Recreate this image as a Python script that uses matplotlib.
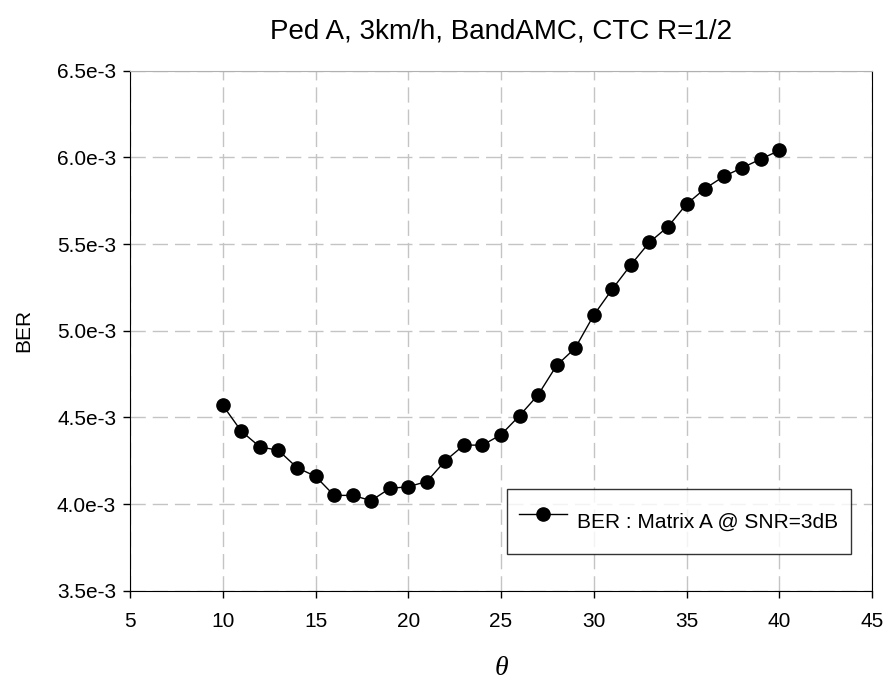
import matplotlib
matplotlib.use("Agg")
import matplotlib.pyplot as plt
from matplotlib.ticker import FuncFormatter, MultipleLocator

plt.rcParams["font.family"] = ["Liberation Sans", "DejaVu Sans"]

theta = [10, 11, 12, 13, 14, 15, 16, 17, 18, 19, 20, 21, 22, 23, 24, 25,
         26, 27, 28, 29, 30, 31, 32, 33, 34, 35, 36, 37, 38, 39, 40]
ber = [4.57e-3, 4.42e-3, 4.33e-3, 4.31e-3, 4.21e-3, 4.16e-3, 4.05e-3, 4.05e-3,
       4.02e-3, 4.09e-3, 4.10e-3, 4.13e-3, 4.25e-3, 4.34e-3, 4.34e-3, 4.40e-3,
       4.51e-3, 4.63e-3, 4.80e-3, 4.90e-3, 5.09e-3, 5.24e-3, 5.38e-3, 5.51e-3,
       5.60e-3, 5.73e-3, 5.82e-3, 5.89e-3, 5.94e-3, 5.99e-3, 6.04e-3]
series_label = "BER : Matrix A @ SNR=3dB"
title = "Ped A, 3km/h, BandAMC, CTC R=1/2"

fig = plt.figure(figsize=(8.87, 6.8), dpi=100)
ax = fig.add_axes([0.1466, 0.1313, 0.8365, 0.7647])

ax.plot(theta, ber, color="black", lw=1.0, marker="o", markersize=9.5,
        label=series_label, zorder=3)

ax.set_xlim(5, 45)
ax.set_ylim(3.5e-3, 6.5e-3)
ax.xaxis.set_major_locator(MultipleLocator(5))
ax.yaxis.set_major_locator(MultipleLocator(0.5e-3))
ax.yaxis.set_major_formatter(FuncFormatter(lambda v, p: f"{v * 1e3:.1f}e-3"))

ax.grid(True, color="#c4c4c4", lw=1.0, linestyle=(0, (11, 5)), zorder=0)
ax.spines["top"].set_color("#b0b0b0")
ax.spines["right"].set_color("black")
ax.tick_params(direction="out", length=5, width=1, labelsize=15,
               top=False, right=False)
ax.tick_params(axis="x", pad=10)
ax.tick_params(axis="y", pad=5)

ax.set_title(title, fontsize=20, pad=23)
ax.set_ylabel("BER", fontsize=15, labelpad=17)
ax.set_xlabel("θ", fontsize=20, family=["Liberation Serif", "DejaVu Serif"],
              style="italic", labelpad=18)

leg = ax.legend(loc="lower right", bbox_to_anchor=(0.9717, 0.0706),
                borderaxespad=0, fontsize=15, frameon=True, fancybox=False,
                handlelength=2.3, handleheight=2.6, borderpad=0.6,
                handletextpad=0.5)
leg.get_frame().set_edgecolor("black")
leg.get_frame().set_linewidth(1.0)

fig.savefig("out.png", dpi=100)
